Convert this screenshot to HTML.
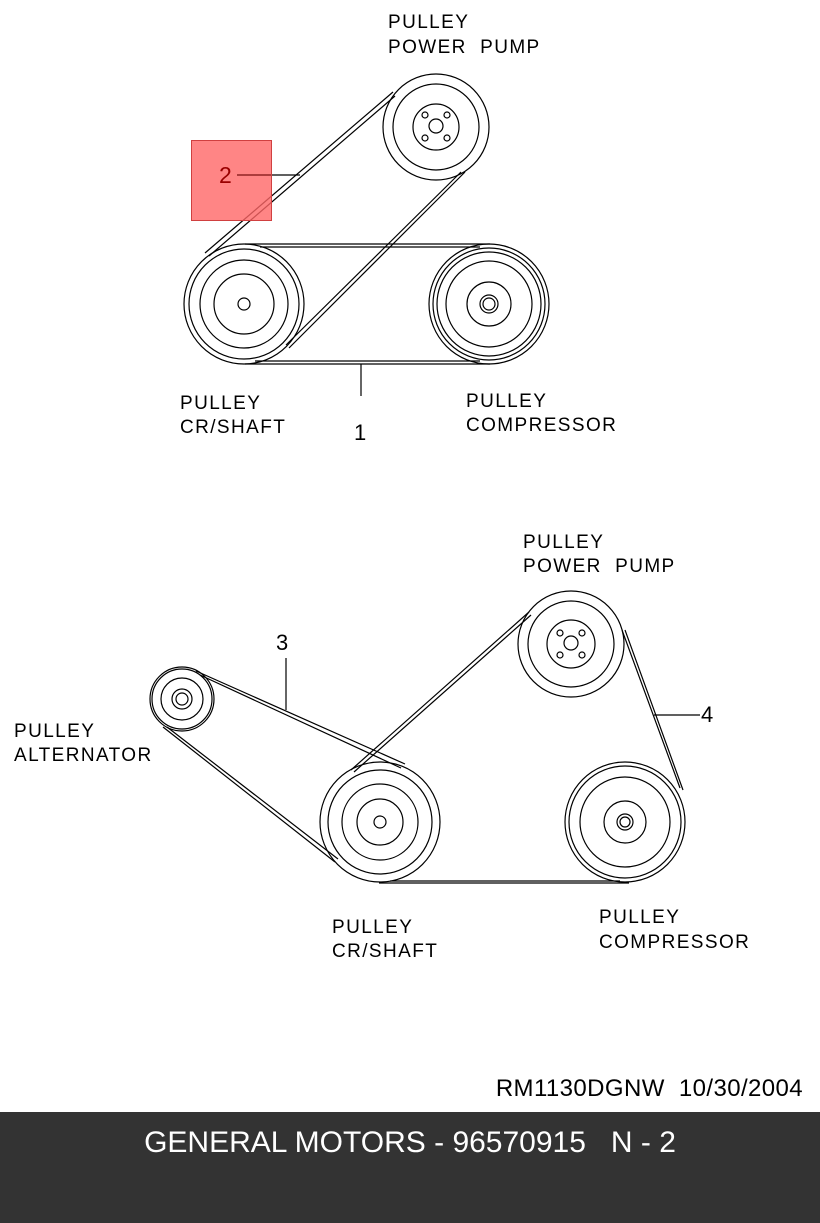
<!DOCTYPE html>
<html><head><meta charset="utf-8"><style>
html,body{margin:0;padding:0;background:#fff;width:820px;height:1223px;overflow:hidden}
svg{display:block}
text{font-family:"Liberation Sans",sans-serif;fill:#000}
</style></head><body>
<svg width="820" height="1223" viewBox="0 0 820 1223">
<g fill="none" stroke="#000" stroke-width="1.2">
<circle cx="436" cy="127" r="53"/><circle cx="436" cy="127" r="43"/><circle cx="436" cy="127" r="23"/>
<circle cx="436" cy="126" r="7"/><circle cx="425" cy="115" r="3"/><circle cx="447" cy="115" r="3"/><circle cx="425" cy="138" r="3"/><circle cx="447" cy="138" r="3"/>
<circle cx="244" cy="304" r="60"/><circle cx="244" cy="304" r="55"/><circle cx="244" cy="304" r="44"/><circle cx="244" cy="304" r="30"/><circle cx="244" cy="304" r="6"/>
<circle cx="489" cy="304" r="60"/><circle cx="489" cy="304" r="56"/><circle cx="489" cy="304" r="52"/><circle cx="489" cy="304" r="43"/><circle cx="489" cy="304" r="22"/><circle cx="489" cy="304" r="9"/><circle cx="489" cy="304" r="6"/>
<line x1="245" y1="244" x2="490" y2="244"/><line x1="260" y1="247" x2="480" y2="247"/>
<line x1="245" y1="364" x2="490" y2="364"/><line x1="255" y1="361" x2="480" y2="361"/>
<line x1="205" y1="253" x2="393" y2="92"/><line x1="209" y1="256" x2="395" y2="96"/>
<line x1="465" y1="172" x2="289" y2="348"/><line x1="461" y1="172" x2="286" y2="345"/>
<line x1="361" y1="364" x2="361" y2="396"/>
<line x1="237" y1="175" x2="300" y2="175"/>
<circle cx="182" cy="699" r="32"/><circle cx="182" cy="699" r="30"/><circle cx="182" cy="699" r="21"/><circle cx="182" cy="699" r="10"/><circle cx="182" cy="699" r="6"/>
<circle cx="380" cy="822" r="60"/><circle cx="380" cy="822" r="52"/><circle cx="380" cy="822" r="38"/><circle cx="380" cy="822" r="23"/><circle cx="380" cy="822" r="6"/>
<circle cx="625" cy="822" r="60"/><circle cx="625" cy="822" r="56"/><circle cx="625" cy="822" r="45"/><circle cx="625" cy="822" r="21"/><circle cx="625" cy="822" r="8"/><circle cx="625" cy="822" r="5"/>
<circle cx="571" cy="644" r="53"/><circle cx="571" cy="644" r="43"/><circle cx="571" cy="644" r="24"/><circle cx="571" cy="643" r="7"/>
<circle cx="560" cy="633" r="3"/><circle cx="582" cy="633" r="3"/><circle cx="560" cy="655" r="3"/><circle cx="582" cy="655" r="3"/>
<line x1="196" y1="671" x2="405" y2="764"/><line x1="200" y1="675" x2="401" y2="768"/>
<line x1="163" y1="727" x2="335" y2="862"/><line x1="167" y1="727" x2="338" y2="859"/>
<line x1="529" y1="612" x2="351" y2="770"/><line x1="531" y1="615" x2="354" y2="772"/>
<line x1="622" y1="630" x2="680" y2="788"/><line x1="625" y1="630" x2="683" y2="790"/>
<line x1="379" y1="883" x2="629" y2="883"/><line x1="390" y1="881" x2="620" y2="881"/>
<line x1="654" y1="715" x2="700" y2="715"/>
<line x1="286" y1="658" x2="286" y2="710"/>
</g>
<rect x="191.5" y="140.5" width="80" height="80" fill="#ff6666" fill-opacity="0.8" stroke="#d04040"/>
<line x1="237" y1="175" x2="271" y2="175" stroke="#600" stroke-width="1.1"/>
<text x="219" y="183" font-size="23" style="fill:#900">2</text>
<g font-size="19" letter-spacing="1.4">
<text x="388" y="28">PULLEY</text><text x="388" y="53">POWER&#160;&#160;PUMP</text>
<text x="180" y="409">PULLEY</text><text x="180" y="433">CR/SHAFT</text>
<text x="466" y="407">PULLEY</text><text x="466" y="431">COMPRESSOR</text>
<text x="523" y="548">PULLEY</text><text x="523" y="572">POWER&#160;&#160;PUMP</text>
<text x="14" y="737">PULLEY</text><text x="14" y="761">ALTERNATOR</text>
<text x="332" y="933">PULLEY</text><text x="332" y="957">CR/SHAFT</text>
<text x="599" y="923">PULLEY</text><text x="599" y="948">COMPRESSOR</text>
</g>
<g font-size="22">
<text x="354" y="440">1</text>
<text x="276" y="650">3</text>
<text x="701" y="722">4</text>
</g>
<text x="803" y="1096" font-size="24" letter-spacing="0.4" text-anchor="end">RM1130DGNW&#160;&#160;10/30/2004</text>
<rect x="0" y="1112" width="820" height="111" fill="#333"/>
<text x="410" y="1152" font-size="30" text-anchor="middle" style="fill:#fff">GENERAL MOTORS - 96570915&#160;&#160;&#160;N - 2</text>
</svg>
</body></html>
